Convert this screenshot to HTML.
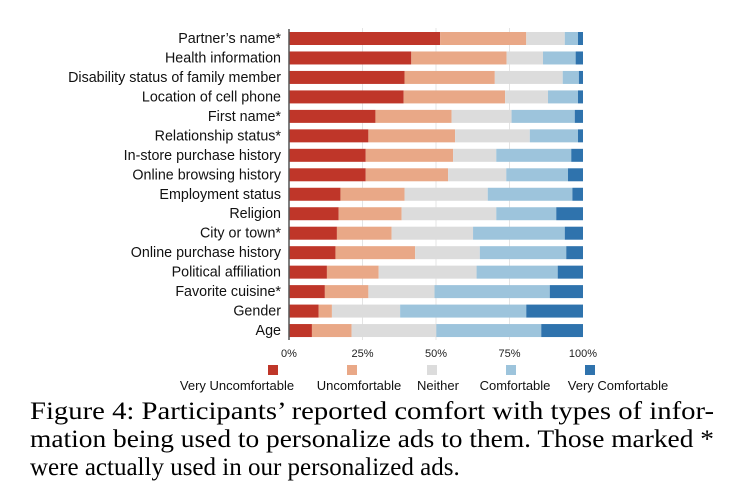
<!DOCTYPE html>
<html><head><meta charset="utf-8"><style>
body{margin:0;background:#fff;width:732px;height:496px;overflow:hidden}
svg{display:block}
</style></head><body>
<svg id="chart" width="732" height="496" xmlns="http://www.w3.org/2000/svg"></svg>
<script>
const categories=["Partner’s name*","Health information","Disability status of family member","Location of cell phone","First name*","Relationship status*","In-store purchase history","Online browsing history","Employment status","Religion","City or town*","Online purchase history","Political affiliation","Favorite cuisine*","Gender","Age"];
const veryUncomfortable=[51.4,41.6,39.3,39.0,29.4,27.0,26.1,26.1,17.5,16.9,16.3,15.8,12.9,12.2,10.1,7.8];
const uncomfortable=[29.3,32.4,30.7,34.5,25.9,29.5,29.7,28.0,21.8,21.4,18.6,27.1,17.6,14.8,4.5,13.5];
const neither=[13.1,12.4,23.1,14.6,20.4,25.4,14.7,19.8,28.3,32.2,27.7,22.0,33.3,22.5,23.2,28.8];
const comfortable=[4.5,11.1,5.5,10.2,21.5,16.4,25.5,21.0,28.8,20.4,31.2,29.4,27.6,39.2,42.9,35.7];
const veryComfortable=[1.7,2.5,1.4,1.7,2.8,1.7,4.0,5.1,3.6,9.1,6.2,5.7,8.6,11.3,19.3,14.2];
const tickLabels=["0%","25%","50%","75%","100%"];
const tickValues=[0,25,50,75,100];
const seriesNames=["Very Uncomfortable","Uncomfortable","Neither","Comfortable","Very Comfortable"];
const colors=["#bf3629","#e9a887","#dcdcdc","#9dc4dc","#2f73ad"];
const NS="http://www.w3.org/2000/svg";
const svg=document.getElementById('chart');
const X0=289,X1=583,Y0=32,STEP=19.47,BH=13;
const x=v=>X0+(X1-X0)*v/100;
const y=i=>Y0+i*STEP;
function mk(t,a,p){const e=document.createElementNS(NS,t);for(const k in a)e.setAttribute(k,a[k]);(p||svg).appendChild(e);return e;}
const font='"Liberation Sans", sans-serif';
tickValues.forEach((v,i)=>{
  if(v>0&&v<100){const g=mk('line',{x1:x(v),x2:x(v),y1:y(0)-4,y2:y(15)+BH+3,stroke:'#e4e4e4','stroke-width':1});
  
  }
  const t=mk('text',{x:x(v),y:357,'text-anchor':'middle','font-family':font,'font-size':11,fill:'#222'});
  t.textContent=tickLabels[i];
  
  
});
const series=[veryUncomfortable,uncomfortable,neither,comfortable,veryComfortable];
categories.forEach((c,i)=>{
  let acc=0;
  series.forEach((s,k)=>{
    const r=mk('rect',{x:x(acc),y:y(i),width:Math.max(0,x(acc+s[i])-x(acc)),height:BH,fill:colors[k]});
    
    
    acc+=s[i];
  });
  const t=mk('text',{x:281,y:y(i)+11,'text-anchor':'end','font-family':font,'font-size':14.3,fill:'#111'});
  t.textContent=c;
  
  
});
const ax=mk('line',{x1:X0,x2:X0,y1:y(0)-3,y2:y(15)+BH+3,stroke:'#555','stroke-width':1.5});


const sqX=[268,347,427,506,585],txX=[237,359,438,515,618];
seriesNames.forEach((n,k)=>{
  const r=mk('rect',{x:sqX[k],y:365,width:10,height:10,fill:colors[k]});
  
  
  const t=mk('text',{x:txX[k],y:390,'text-anchor':'middle','font-family':font,'font-size':13,fill:'#111'});
  t.textContent=n;
  
  
});
const cap=["Figure 4: Participants’ reported comfort with types of infor-","mation being used to personalize ads to them. Those marked *","were actually used in our personalized ads."];
cap.forEach((l,i)=>{
  const a={x:30,y:419+i*28,'font-family':'"Liberation Serif", serif','font-size':25,fill:'#000'};
  if(i<2){a.textLength=684;a.lengthAdjust='spacingAndGlyphs';}
  const t=mk('text',a);
  t.textContent=l;
  
  
});
</script>
</body></html>
